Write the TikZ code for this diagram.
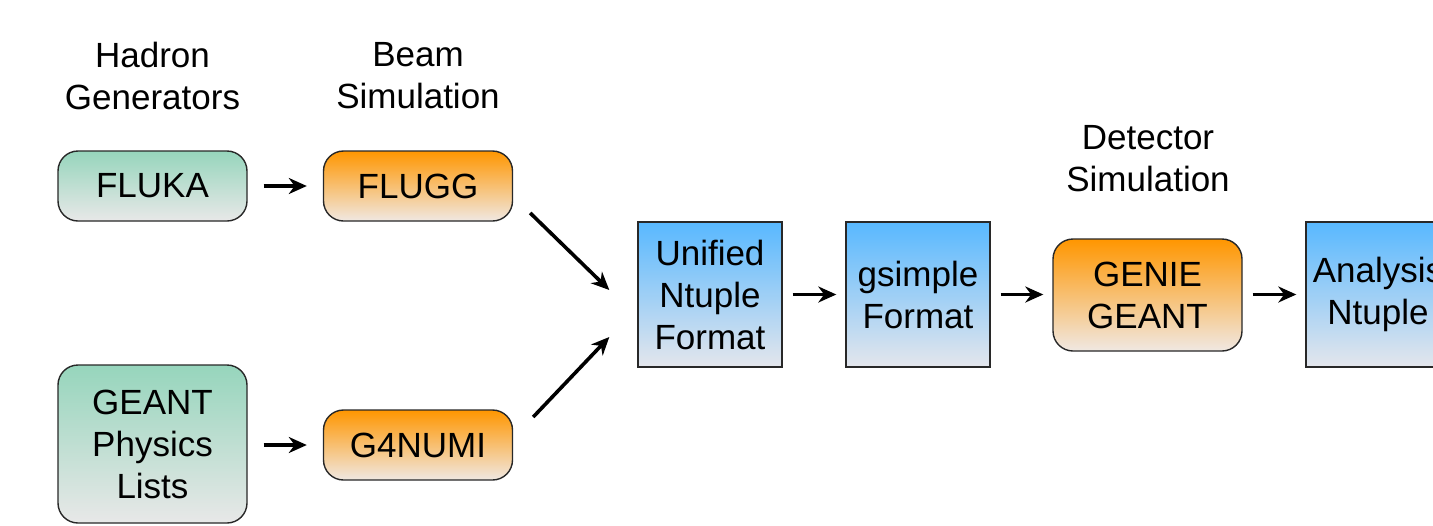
\documentclass[tikz,border=0pt]{standalone}
\usepackage{fontspec}
\setmainfont{Liberation Sans}
\usetikzlibrary{calc,arrows.meta}
\definecolor{gtop}{RGB}{150,213,188}
\definecolor{gbot}{RGB}{232,232,232}
\definecolor{otop}{RGB}{255,150,0}
\definecolor{obot}{RGB}{240,232,226}
\definecolor{btop}{RGB}{88,184,255}
\definecolor{bbot}{RGB}{228,230,236}
\definecolor{edge}{RGB}{40,40,40}
\tikzset{
  txt/.style={font=\fontsize{17.5}{21}\selectfont, align=center, inner sep=0pt},
  rbox/.style={txt, draw=edge, line width=0.7pt, rounded corners=10pt, minimum width=94.5pt},
  greenbox/.style={rbox, top color=gtop, bottom color=gbot},
  orangebox/.style={rbox, top color=otop, bottom color=obot},
  bluebox/.style={txt, draw=edge, line width=0.7pt, top color=btop, bottom color=bbot, minimum width=72pt, minimum height=72.5pt},
  arr/.style={line width=1.8pt, -{Stealth[length=9pt,width=8pt]}, shorten <=8pt, shorten >=8pt},
  sarr/.style={line width=1.8pt, -{Stealth[length=9pt,width=8pt]}, shorten <=5pt, shorten >=4.5pt},
  darr/.style={line width=1.8pt, -{Stealth[length=9pt,width=8pt]}}
}
\begin{document}
\begin{tikzpicture}[x=0.5pt,y=-0.5pt]
\useasboundingbox (0,0) rectangle (1433,525);
\clip (0,0) rectangle (1433,525);
\node[txt] (lhad) at (152.5,76) {Hadron\\Generators};
\node[txt] (lbeam) at (418,76) {Beam\\Simulation};
\node[txt] (ldet) at (1148,159) {Detector\\Simulation};
\node[greenbox, minimum height=35pt] (fluka) at (152.5,186) {FLUKA};
\node[orangebox, minimum height=35pt] (flugg) at (418,186) {FLUGG};
\node[greenbox, minimum height=79pt] (geant) at (152.5,444) {GEANT\\Physics\\Lists};
\node[orangebox, minimum height=35pt] (g4numi) at (418,445) {G4NUMI};
\node[bluebox] (unified) at (710,294.5) {Unified\\Ntuple\\Format};
\node[bluebox] (gsimple) at (918,294.5) {gsimple\\Format};
\node[orangebox, minimum height=56pt] (genie) at (1147.5,295) {GENIE\\GEANT};
\node[bluebox] (analysis) at (1378,294.5) {Analysis\\Ntuple};
\draw[arr] (fluka) -- (flugg);
\draw[arr] (geant.east |- g4numi.west) -- (g4numi.west);
\draw[darr] ($(flugg.east)+(17,27)$) -- ($(unified.west)+(-28,-4.5)$);
\draw[darr] ($(g4numi.east)+(20,-28)$) -- ($(unified.west)+(-28,42.5)$);
\draw[sarr] (unified) -- (gsimple);
\draw[sarr] (gsimple.east) -- (genie.west |- gsimple.east);
\draw[sarr] (genie.east |- analysis.west) -- (analysis.west);
\end{tikzpicture}
\end{document}
